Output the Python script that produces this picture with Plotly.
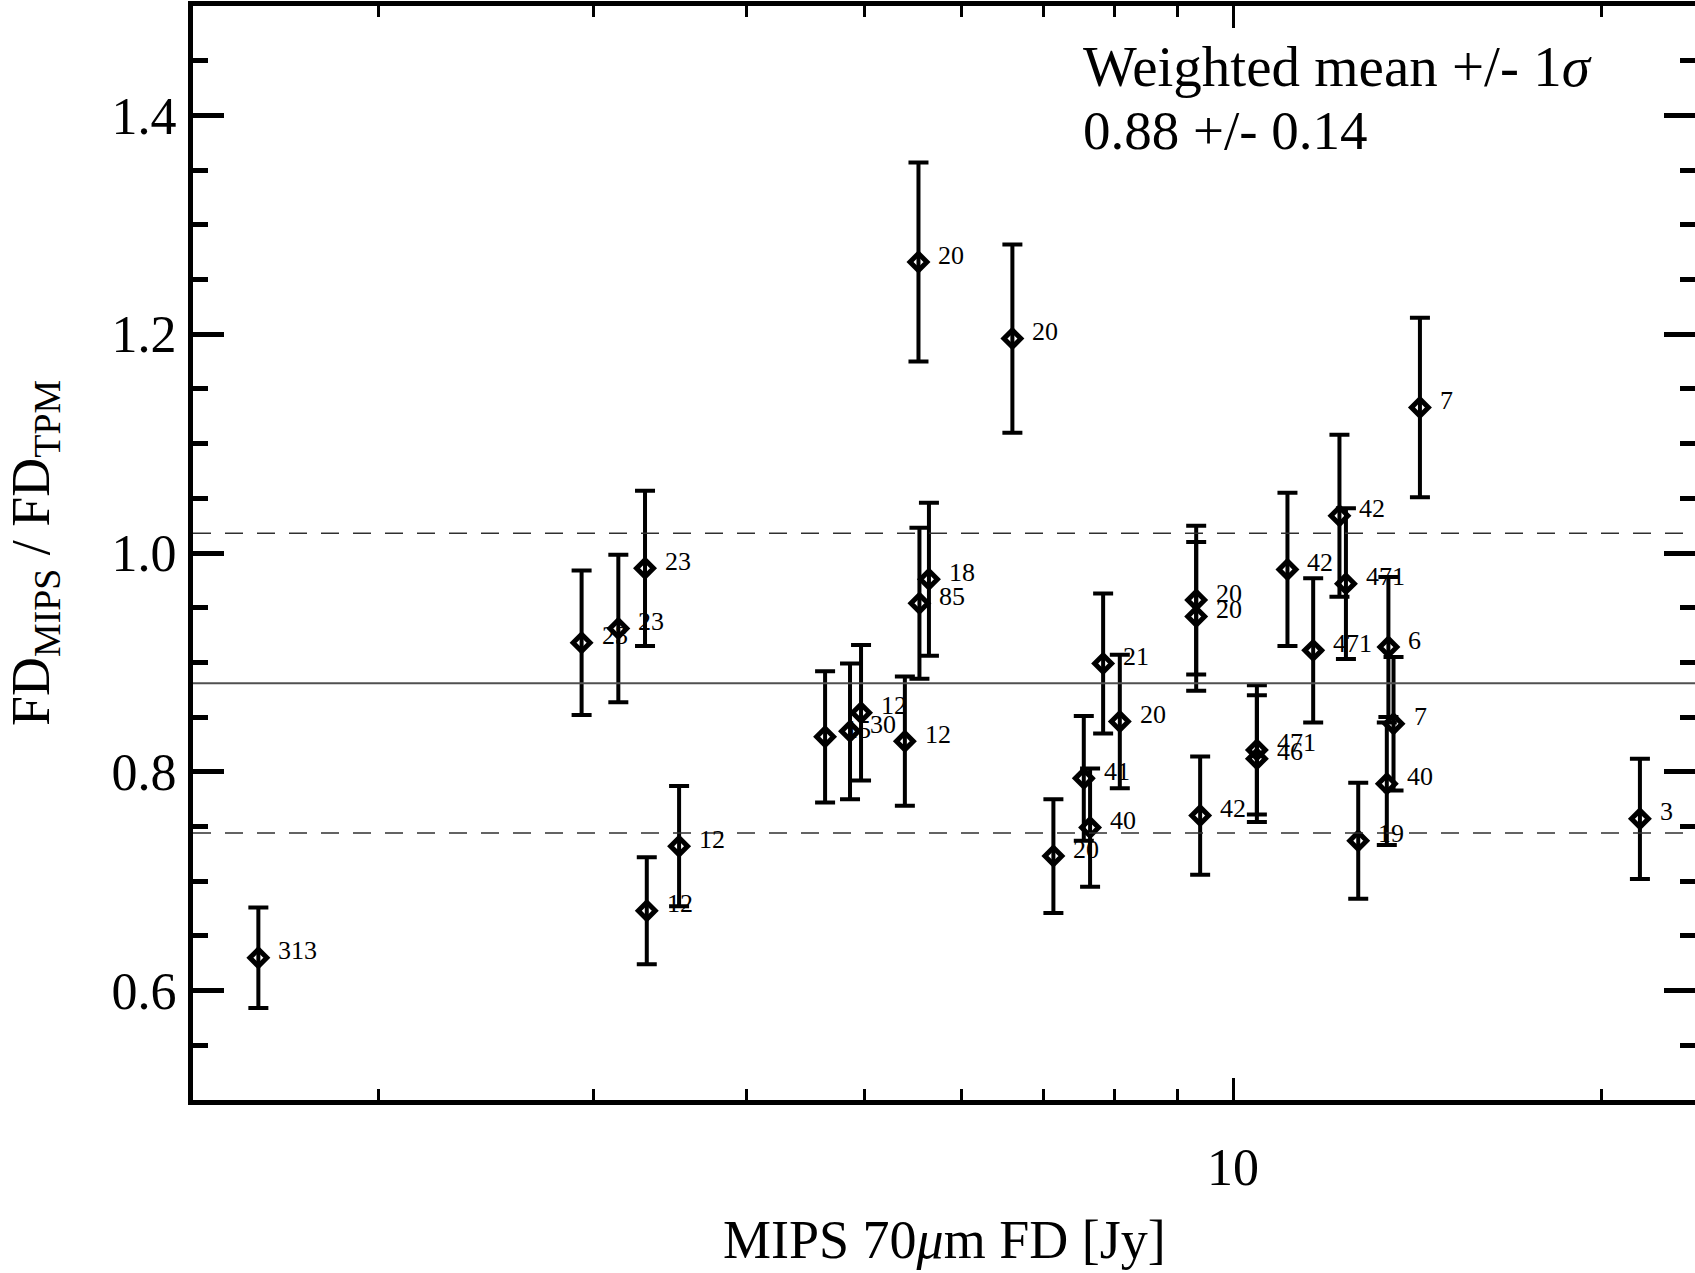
import numpy as np
import plotly.graph_objects as go

# ---- data ----
mips_fd = [1.595, 2.932, 3.142, 3.304, 3.315, 3.523, 4.638, 4.861, 4.963, 5.39,
           5.53, 5.54, 5.64, 6.60, 7.13, 7.55, 7.64, 7.83, 8.08, 9.33,
           9.33, 9.40, 10.46, 10.46, 11.08, 11.63, 12.22, 12.37, 12.66, 13.36,
           13.40, 13.53, 14.22, 21.52]
ratio = [0.630, 0.918, 0.931, 0.986, 0.673, 0.732, 0.832, 0.837, 0.854, 0.828,
         1.266, 0.954, 0.976, 1.196, 0.723, 0.794, 0.749, 0.899, 0.846, 0.957,
         0.942, 0.760, 0.820, 0.812, 0.985, 0.911, 1.034, 0.972, 0.737, 0.789,
         0.914, 0.844, 1.133, 0.757]
ratio_err = [0.046, 0.066, 0.0675, 0.071, 0.049, 0.055, 0.060, 0.062, 0.062, 0.059,
             0.091, 0.069, 0.070, 0.086, 0.052, 0.057, 0.054, 0.064, 0.061, 0.068,
             0.068, 0.054, 0.059, 0.058, 0.070, 0.066, 0.074, 0.069, 0.053, 0.056,
             0.064, 0.061, 0.082, 0.055]
n_labels = ["313", "23", "23", "23", "12", "12", "15", "30", "12", "12",
            "20", "85", "18", "20", "20", "41", "40", "21", "20", "20",
            "20", "42", "471", "46", "42", "471", "42", "471", "19", "40",
            "6", "7", "7", "3"]

weighted_mean = 0.881
sigma = 0.137
mean_text = ["Weighted mean +/- 1<i>σ</i>", "0.88 +/- 0.14"]

y_major = [0.6, 0.8, 1.0, 1.2, 1.4]
y_minor = [0.55, 0.65, 0.7, 0.75, 0.85, 0.9, 0.95, 1.05, 1.1, 1.15, 1.25, 1.3, 1.35, 1.45]
x_major = [10]
x_major_text = ["10"]
x_minor = [2, 3, 4, 5, 6, 7, 8, 9, 20]

FONT = "Liberation Serif"

fig = go.Figure()
fig.add_trace(go.Scatter(
    x=mips_fd, y=ratio, mode="markers",
    marker=dict(symbol="diamond-open", size=13, color="black", line=dict(width=5, color="black")),
    error_y=dict(type="data", array=ratio_err, visible=True, thickness=4, width=10, color="black"),
    showlegend=False, hoverinfo="x+y",
))
# trace on the mirrored right axis (carries the right-hand ticks)
fig.add_trace(go.Scatter(x=mips_fd, y=ratio, yaxis="y2", mode="markers",
                         marker=dict(opacity=0), showlegend=False, hoverinfo="skip"))

# reference lines
fig.add_hline(y=weighted_mean, line=dict(color="#505050", width=2))
fig.add_hline(y=weighted_mean + sigma, line=dict(color="#303030", width=1.6, dash="18px,14px"))
fig.add_hline(y=weighted_mean - sigma, line=dict(color="#303030", width=1.6, dash="18px,14px"))

# point labels
for xv, yv, lab in zip(mips_fd, ratio, n_labels):
    fig.add_annotation(x=np.log10(xv), y=yv, xref="x", yref="y", text=lab,
                       showarrow=False, xanchor="left", yanchor="middle",
                       xshift=19, yshift=7, borderpad=0,
                       font=dict(family=FONT, size=26, color="black"))

# weighted mean text
fig.add_annotation(x=0.592, y=0.9444, xref="paper", yref="paper", text=mean_text[0],
                   showarrow=False, xanchor="left", yanchor="middle", borderpad=0,
                   font=dict(family=FONT, size=57, color="black"))
fig.add_annotation(x=0.592, y=0.8859, xref="paper", yref="paper", text=mean_text[1],
                   showarrow=False, xanchor="left", yanchor="middle", borderpad=0,
                   font=dict(family=FONT, size=55, color="black"))

# axis titles
fig.add_annotation(x=0.5, y=0, xref="paper", yref="paper", yshift=-140,
                   text="MIPS 70<i>μ</i>m FD [Jy]", showarrow=False,
                   xanchor="center", yanchor="middle", borderpad=0,
                   font=dict(family=FONT, size=54, color="black"))
fig.add_annotation(x=0, y=0.5, xref="paper", yref="paper", xshift=-159,
                   text="FD<sub>MIPS</sub> / FD<sub>TPM</sub>", showarrow=False, textangle=-90,
                   xanchor="center", yanchor="middle", borderpad=0,
                   font=dict(family=FONT, size=54, color="black"))

fig.update_layout(
    width=1695, height=1273,
    margin=dict(l=193, r=0, t=6, b=173),
    paper_bgcolor="white", plot_bgcolor="white",
    font=dict(family=FONT, color="black"),
    xaxis=dict(
        type="log", range=[0.1493, 1.3779],
        showgrid=False, zeroline=False,
        showline=True, linecolor="black", linewidth=5, mirror="ticks",
        ticks="inside", ticklen=22, tickwidth=3, tickcolor="black",
        tickvals=x_major, ticktext=x_major_text,
        tickfont=dict(family=FONT, size=52, color="black"),
        ticklabelstandoff=18,
        minor=dict(tickvals=x_minor, ticks="inside", ticklen=11, tickwidth=3, tickcolor="black"),
    ),
    yaxis=dict(
        range=[0.5, 1.5],
        showgrid=False, zeroline=False,
        showline=True, linecolor="black", linewidth=5,
        ticks="inside", ticklen=31, tickwidth=5, tickcolor="black",
        tickvals=y_major, tickformat=".1f",
        tickfont=dict(family=FONT, size=52, color="black"),
        ticklabelstandoff=1,
        minor=dict(tickvals=y_minor, ticks="inside", ticklen=15, tickwidth=5, tickcolor="black"),
    ),
    yaxis2=dict(
        range=[0.5, 1.5], overlaying="y", side="right",
        showgrid=False, zeroline=False, showline=False,
        ticks="inside", ticklen=31, tickwidth=5, tickcolor="black",
        tickvals=y_major, showticklabels=False,
        minor=dict(tickvals=y_minor, ticks="inside", ticklen=15, tickwidth=5, tickcolor="black"),
    ),
)

fig.write_html("out.html")
